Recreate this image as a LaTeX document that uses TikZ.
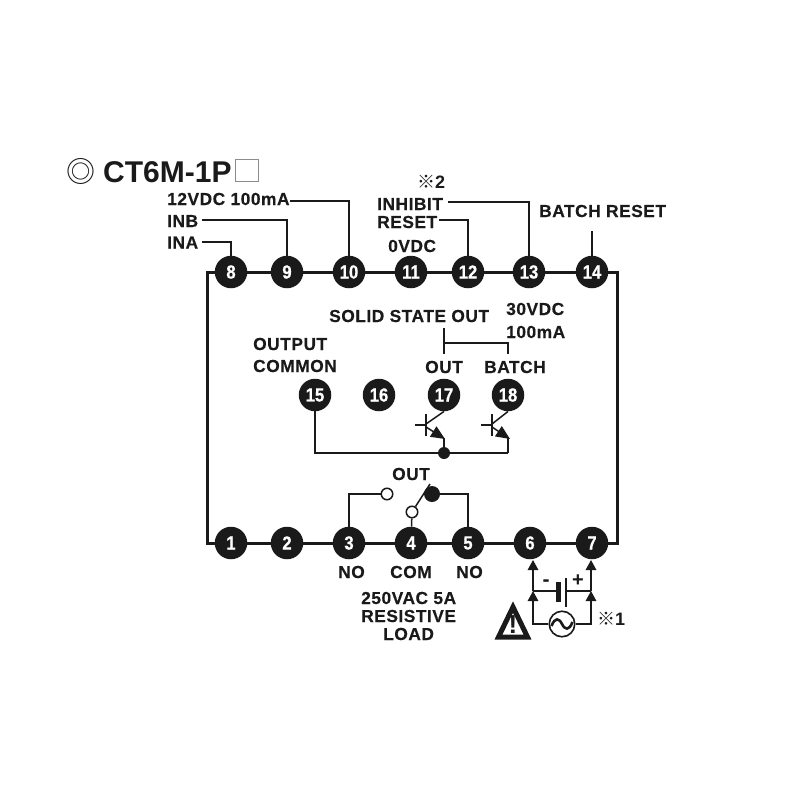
\documentclass[tikz,border=0pt]{standalone}
\usepackage{fontspec}
\setmainfont{Liberation Sans}
\newfontfamily\labfont[LetterSpace=2.8,FakeBold=0.3]{Liberation Sans Bold}
\newfontfamily\pinfont[FakeStretch=0.88,FakeBold=0.6]{Liberation Sans Bold}
\newfontfamily\titlefont{Liberation Sans Bold}
\newfontfamily\cjk{Noto Sans CJK JP}
\usetikzlibrary{arrows.meta}
\definecolor{ink}{HTML}{1A1A1A}
\tikzset{
  pinnode/.style={circle,fill=ink,draw=none,inner sep=0pt,minimum size=32.5pt,text=white,font=\pinfont\fontsize{19}{19}\selectfont},
  lab/.style={anchor=base west,inner sep=0pt,text=ink,font=\labfont\fontsize{17.4}{18}\selectfont},
  frame/.style={draw=ink,line width=3pt},
  wire/.style={draw=ink,line width=2pt},
  thinwire/.style={draw=ink,line width=1.5pt},
  contact/.style={circle,draw=ink,fill=white,line width=1.5pt,inner sep=0pt,minimum size=11.5pt},
  solidcontact/.style={circle,fill=ink,inner sep=0pt,minimum size=16pt},
  junction/.style={circle,fill=ink,inner sep=0pt,minimum size=12pt},
  upstem/.style={thinwire,-{Triangle[length=10pt,width=10.5pt]}},
  emit/.style={thinwire,-{Triangle[length=14pt,width=12pt]}},
  sym/.style={anchor=base west,inner sep=0pt,text=ink,font=\cjk\fontsize{18}{18}\selectfont},
}
\begin{document}
\begin{tikzpicture}[x=1pt,y=-1pt]
\useasboundingbox (0,0) rectangle (800,800);
% pins
\foreach \n/\x in {8/231,9/287,10/349,11/411,12/468,13/529,14/592}
  \node[pinnode] (n\n) at (\x,272) {\n};
\foreach \n/\x in {1/231,2/287,3/349,4/411,5/468,6/530,7/592}
  \node[pinnode] (n\n) at (\x,543) {\n};
\foreach \n/\x in {15/315,16/379,17/444,18/508}
  \node[pinnode] (n\n) at (\x,395) {\n};
% frame
\coordinate (cTL) at (207,272); \coordinate (cBL) at (207,543);
\coordinate (cTR) at (617.5,272); \coordinate (cBR) at (617.5,543);
\draw[frame,line join=miter] (n8.west) -- (cTL) -- (cBL) -- (n1.west);
\draw[frame,line join=miter] (n14.east) -- (cTR) -- (cBR) -- (n7.east);
\foreach \a/\b in {8/9,9/10,10/11,11/12,12/13,13/14,1/2,2/3,3/4,4/5,5/6,6/7}
  \draw[frame] (n\a) -- (n\b);
% title
\node[circle,draw=none,inner sep=0pt,anchor=center,font=\cjk\fontsize{29}{29}\selectfont,text=ink] (ring) at (81,171) {◎};
\node[anchor=base west,inner sep=0pt,text=ink,font=\titlefont\fontsize{30}{30}\selectfont] (title) at (103,182) {CT6M-1P};
\node[rectangle,draw=black!45,fill=white,line width=1pt,inner sep=0pt,minimum width=23pt,minimum height=22.5pt] (box) at (247,170.5) {};
% top labels
\node[lab] (l12v) at (167,205) {12VDC 100mA};
\node[lab] (linb) at (167,227) {INB};
\node[lab] (lina) at (167,248.5) {INA};
\node[sym] (lx2) at (417,188) {※\titlefont 2};
\node[lab] (linh) at (377,210) {INHIBIT};
\node[lab] (lres) at (377,228) {RESET};
\node[lab] (l0v) at (388,252) {0VDC};
\node[lab] (lbr) at (539,217) {BATCH RESET};
\coordinate (e12v) at (290,201); \coordinate (einb) at (202,220); \coordinate (eina) at (202,242);
\coordinate (einh) at (448,202); \coordinate (eres) at (439,220); \coordinate (ebr) at (592,231);
\draw[wire] (e12v) -| (n10);
\draw[wire] (einb) -| (n9);
\draw[wire] (eina) -| (n8);
\draw[wire] (einh) -| (n13);
\draw[wire] (eres) -| (n12);
\draw[wire] (ebr) -- (n14);
% middle labels
\node[lab] (lsso) at (329,322) {SOLID STATE OUT};
\node[lab] (l30) at (506,315) {30VDC};
\node[lab] (l100) at (506,338) {100mA};
\node[lab] (louts) at (425,373) {OUT};
\node[lab] (lbat) at (484,373) {BATCH};
\node[lab] (lop) at (253,350) {OUTPUT};
\node[lab] (lcom) at (253,372) {COMMON};
% bracket
\coordinate (bA) at (444,328); \coordinate (bB) at (444,354); \coordinate (bC) at (444,343);
\coordinate (bD) at (508,343); \coordinate (bE) at (508,354);
\draw[thinwire] (bA) -- (bB);
\draw[thinwire] (bC) -- (bD) -- (bE);
% transistors
\node[junction] (jn) at (444,453) {};
\coordinate (c15) at (315,453); \coordinate (c18) at (508,453);
\draw[thinwire] (n15) -- (c15) -- (jn);
\draw[thinwire] (jn) -- (c18);
\coordinate (t1c) at (426,424); \coordinate (t1e) at (426,427);
\coordinate (t1tip) at (445,439); \coordinate (t1bt) at (426,414); \coordinate (t1bb) at (426,436); \coordinate (t1in) at (415,425);
\draw[thinwire] (t1bt) -- (t1bb);
\draw[thinwire] (t1in) -- (426,425);
\draw[thinwire] (t1c) -- (n17.south);
\draw[emit] (t1e) -- (t1tip);
\draw[thinwire] (444,438) -- (jn);
\coordinate (t2c) at (492,424); \coordinate (t2e) at (492,427);
\coordinate (t2tip) at (510,439); \coordinate (t2bt) at (492,414); \coordinate (t2bb) at (492,436); \coordinate (t2in) at (481,425);
\draw[thinwire] (t2bt) -- (t2bb);
\draw[thinwire] (t2in) -- (492,425);
\draw[thinwire] (t2c) -- (n18.south);
\draw[emit] (t2e) -- (t2tip);
\draw[thinwire] (508,438) -- (c18);
% relay
\node[lab] (lrel) at (392,480) {OUT};
\node[contact] (sno) at (387,494) {};
\node[solidcontact] (snc) at (432,494) {};
\node[contact] (scm) at (412,512) {};
\coordinate (bl) at (430,484);
\draw[wire] (n3) |- (sno);
\draw[wire] (n5) |- (snc);
\draw[thinwire] (scm) -- (n4);
\draw[thinwire] (scm) -- (bl);
\node[lab] (lno1) at (338,578) {NO};
\node[lab] (lcm) at (390,578) {COM};
\node[lab] (lno2) at (456,578) {NO};
\node[lab] (l250) at (361,604) {250VAC 5A};
\node[lab] (lrs) at (361,622) {RESISTIVE};
\node[lab] (lld) at (383,640) {LOAD};
% supply
\node[circle,draw=ink,fill=white,line width=1.6pt,inner sep=0pt,minimum size=25.5pt] (ac) at (562,624) {};
\draw[ink,line width=2.6pt] (551.5,626) .. controls (555,617) and (559,618) .. (562,624) .. controls (565,630) and (569,631) .. (572.5,622);
\coordinate (pL) at (533,591); \coordinate (pR) at (591,591);
\coordinate (qL) at (533,624); \coordinate (qR) at (591,624);
\coordinate (aL) at (533,560); \coordinate (aR) at (591,560);
\coordinate (pLa) at (555.5,591); \coordinate (pRa) at (566,591);
\draw[upstem] (pL) -- (aL);
\draw[upstem] (pR) -- (aR);
\draw[upstem] (ac) -- (qL) -- (pL);
\draw[upstem] (ac) -- (qR) -- (pR);
\draw[thinwire] (pL) -- (pLa);
\draw[thinwire] (pRa) -- (pR);
\draw[ink,line width=5pt] (558,582) -- (558,602);
\draw[ink,line width=1.8pt] (566,578) -- (566,607);
\node[anchor=center,inner sep=0pt,text=ink,font=\titlefont\fontsize{21}{21}\selectfont] (lmin) at (546,583.5) {-};
\node[anchor=center,inner sep=0pt,text=ink,font=\titlefont\fontsize{20}{20}\selectfont] (lplu) at (578,580.5) {+};
\node[sym] (lx1) at (597,625) {※\titlefont 1};
% warning
\draw[ink,line width=5pt,line join=miter,fill=white] (513,607) -- (527.5,637) -- (498.5,637) -- cycle;
\node[anchor=base,inner sep=0pt,text=ink,font=\titlefont\fontsize{26}{26}\selectfont] (lwarn) at (513,633.5) {!};
\end{tikzpicture}
\end{document}
